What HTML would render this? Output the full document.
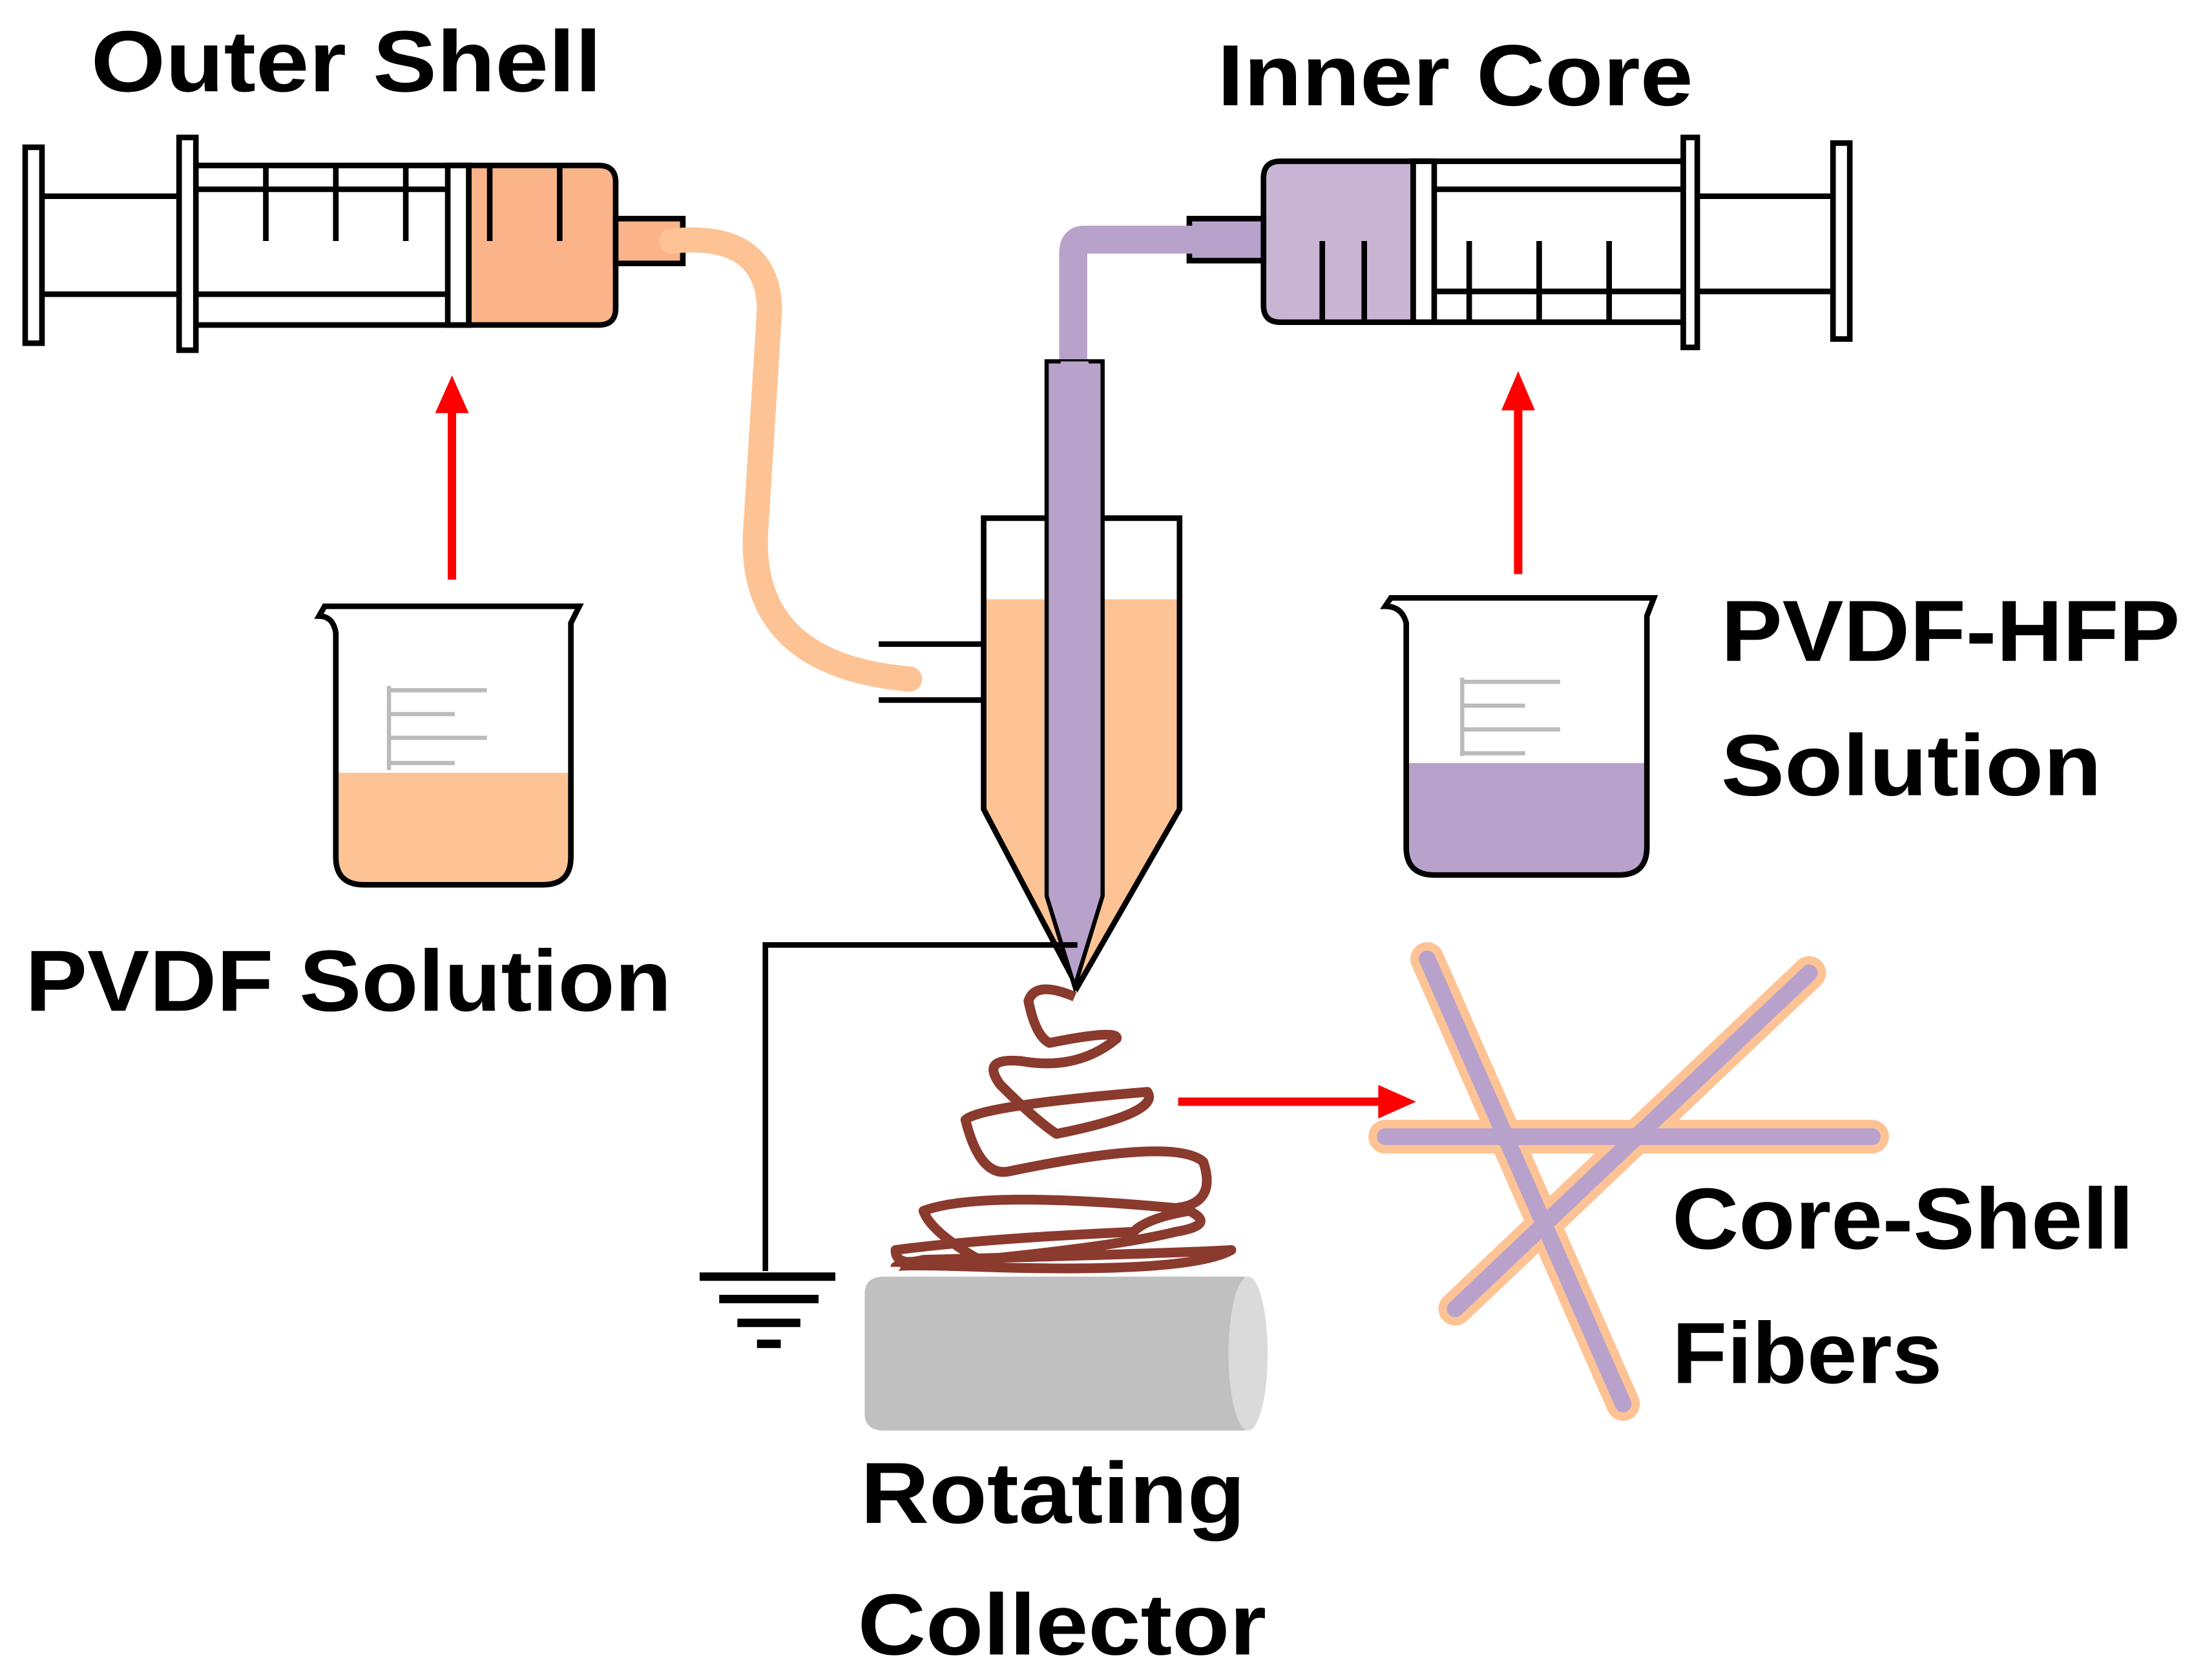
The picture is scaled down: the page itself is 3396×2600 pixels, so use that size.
<!DOCTYPE html>
<html><head><meta charset="utf-8"><style>
html,body{margin:0;padding:0;background:#fff}
svg{display:block}
text{font-family:"Liberation Sans",sans-serif;font-weight:bold;fill:#000}
</style></head><body>
<svg width="3396" height="2600" viewBox="0 0 1568 1200" xmlns="http://www.w3.org/2000/svg">
<rect width="1568" height="1200" fill="#fff"/>
<!-- Left syringe -->
<g stroke="#000" stroke-width="4" fill="none">
<rect x="18" y="105" width="12" height="140" fill="#fff"/>
<line x1="30" y1="140" x2="130" y2="140"/><line x1="30" y1="210" x2="130" y2="210"/>
<path d="M335,118 H428 Q440,118 440,130 V220 Q440,232 428,232 H335 Z" fill="#FBB48A"/>
<rect x="140" y="118" width="195" height="114"/>
<line x1="140" y1="135" x2="320" y2="135"/><line x1="140" y1="210" x2="320" y2="210"/>
<rect x="320" y="118" width="15" height="114" fill="#fff"/>
<rect x="128" y="98" width="12" height="152" fill="#fff"/>
<line x1="190" y1="118" x2="190" y2="172"/><line x1="240" y1="118" x2="240" y2="172"/><line x1="290" y1="118" x2="290" y2="172"/>
<line x1="350" y1="118" x2="350" y2="172"/><line x1="400" y1="118" x2="400" y2="172"/>
<rect x="440" y="156" width="48" height="32" fill="#FBB48A"/>
</g>
<!-- orange tube -->
<path d="M480,172 Q548,165 550,220 L540,380 Q535,475 650,485" stroke="#FDC394" stroke-width="18" fill="none" stroke-linecap="round"/>
<!-- Right syringe -->
<g stroke="#000" stroke-width="4" fill="none">
<rect x="1310" y="102" width="12" height="140" fill="#fff"/>
<line x1="1213" y1="140" x2="1310" y2="140"/><line x1="1213" y1="208" x2="1310" y2="208"/>
<path d="M1010,115 H915 Q903,115 903,127 V218 Q903,230 915,230 H1010 Z" fill="#C9B5D3"/>
<rect x="1010" y="115" width="193" height="115"/>
<line x1="1025" y1="135" x2="1203" y2="135"/><line x1="1025" y1="208" x2="1203" y2="208"/>
<rect x="1010" y="115" width="15" height="115" fill="#fff"/>
<rect x="1203" y="98" width="10" height="150" fill="#fff"/>
<line x1="1050" y1="172" x2="1050" y2="230"/><line x1="1100" y1="172" x2="1100" y2="230"/><line x1="1150" y1="172" x2="1150" y2="230"/>
<line x1="945" y1="172" x2="945" y2="230"/><line x1="975" y1="172" x2="975" y2="230"/>
<rect x="850" y="156" width="53" height="30" fill="#B8A2CB"/>
</g>
<!-- purple tube -->
<path d="M860,171 H775 Q767,171 767,180 V260" stroke="#B8A2CB" stroke-width="20" fill="none"/>
<!-- nozzle -->
<path d="M703,428 H843 V578 L770,705 L703,578 Z" fill="#FDC394"/>
<path d="M703,370 H843 V578 L770,705 L703,578 Z" fill="none" stroke="#000" stroke-width="4"/>
<path d="M628,460 H703 M628,500 H703" stroke="#000" stroke-width="4"/>
<path d="M748,258 H788 V640 L768,705 L748,640 Z" fill="#B8A2CB" stroke="#000" stroke-width="3"/>
<rect x="758" y="258" width="20" height="112" fill="#B8A2CB"/>
<!-- ground -->
<path d="M770,675 H547 V908" stroke="#000" stroke-width="4" fill="none"/>
<g stroke="#000" stroke-width="6"><line x1="500" y1="912" x2="597" y2="912"/><line x1="514" y1="928" x2="585" y2="928"/><line x1="527" y1="945" x2="572" y2="945"/><line x1="541" y1="960" x2="558" y2="960"/></g>
<!-- collector -->
<path d="M632,912 H890 V1022 H632 Q618,1022 618,1010 V924 Q618,912 632,912 Z" fill="#C0C0C0"/>
<ellipse cx="892" cy="967" rx="14" ry="55" fill="#DADADA"/>
<!-- spiral -->
<path d="M768,712 Q740,700 735,715 Q740,740 750,745 Q800,735 798,742 Q770,765 730,758 Q700,755 715,775 Q740,800 755,810 Q830,795 820,780 Q700,790 690,800 Q700,840 720,837 Q840,812 860,830 Q870,860 840,863 Q700,850 660,865 Q665,880 700,900 Q800,890 840,880 Q870,875 850,865 Q820,870 810,880 Q700,885 640,893 Q640,905 660,900 Q850,895 880,893 Q850,910 700,905 Q640,903 640,905" stroke="#8B3A2E" stroke-width="7" fill="none" stroke-linejoin="round"/>
<!-- arrows -->
<g stroke="#F00" stroke-width="6" fill="#F00">
<line x1="323" y1="414" x2="323" y2="290"/><polygon points="311,295 335,295 323,268" stroke="none"/>
<line x1="1085" y1="410" x2="1085" y2="288"/><polygon points="1073,293 1097,293 1085,265" stroke="none"/>
<line x1="842" y1="787" x2="990" y2="787"/><polygon points="985,775 985,799 1012,787" stroke="none"/>
</g>
<!-- beakers -->
<g stroke="#000" stroke-width="4" fill="none">
<path d="M240,552 H406 V612 Q406,630 388,630 H258 Q240,630 240,612 Z" fill="#FDC394" stroke="none"/>
<path d="M228,440 Q238,440 240,452 V612 Q240,632 260,632 H388 Q408,632 408,612 V445 L414,433 H232 Z"/>
<path d="M1005,545 H1175 V607 Q1175,625 1157,625 H1023 Q1005,625 1005,607 Z" fill="#B8A2CB" stroke="none"/>
<path d="M990,433 Q1002,433 1005,445 V605 Q1005,625 1025,625 H1157 Q1177,625 1177,605 V440 L1182,427 H994 Z"/>
</g>
<g stroke="#BBB" stroke-width="3"><path d="M278,490 V550 M278,493 H348 M278,510 H325 M278,527 H348 M278,545 H325"/>
<path d="M1045,484 V540 M1045,487 H1115 M1045,504 H1090 M1045,521 H1115 M1045,538 H1090"/></g>
<!-- fibers -->
<g stroke-linecap="round">
<line x1="1020" y1="685" x2="1160" y2="1003" stroke="#FDC394" stroke-width="24"/>
<line x1="1293" y1="695" x2="1040" y2="935" stroke="#FDC394" stroke-width="24"/>
<line x1="990" y1="812" x2="1338" y2="812" stroke="#FDC394" stroke-width="24"/>
<line x1="1020" y1="685" x2="1160" y2="1003" stroke="#B8A2CB" stroke-width="12"/>
<line x1="1293" y1="695" x2="1040" y2="935" stroke="#B8A2CB" stroke-width="12"/>
<line x1="990" y1="812" x2="1338" y2="812" stroke="#B8A2CB" stroke-width="12"/>
</g>
<!-- labels -->
<g font-size="62">
<text x="65" y="65" textLength="365" lengthAdjust="spacingAndGlyphs">Outer Shell</text>
<text x="870" y="75" textLength="340" lengthAdjust="spacingAndGlyphs">Inner Core</text>
<text x="18" y="722" textLength="462" lengthAdjust="spacingAndGlyphs">PVDF Solution</text>
<text x="1230" y="472" textLength="328" lengthAdjust="spacingAndGlyphs">PVDF-HFP</text>
<text x="1230" y="568" textLength="272" lengthAdjust="spacingAndGlyphs">Solution</text>
<text x="1195" y="892" textLength="330" lengthAdjust="spacingAndGlyphs">Core-Shell</text>
<text x="1195" y="988" textLength="193" lengthAdjust="spacingAndGlyphs">Fibers</text>
<text x="615" y="1088" textLength="275" lengthAdjust="spacingAndGlyphs">Rotating</text>
<text x="613" y="1182" textLength="292" lengthAdjust="spacingAndGlyphs">Collector</text>
</g>
</svg>
</body></html>
